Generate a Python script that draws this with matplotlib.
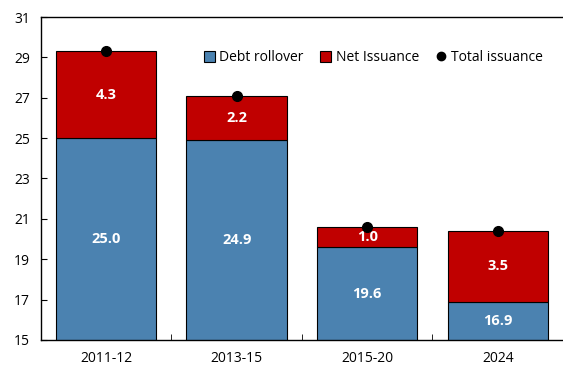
import numpy as np
import matplotlib.pyplot as plt
from matplotlib.lines import Line2D
from matplotlib.patches import Patch

plt.rcParams['font.family'] = ['Open Sans', 'DejaVu Sans']

periods = ['2011-12', '2013-15', '2015-20', '2024']
rollover = [25.0, 24.9, 19.6, 16.9]
net_issuance = [4.3, 2.2, 1.0, 3.5]
total = [29.3, 27.1, 20.6, 20.4]

blue = '#4B82B0'
red = '#C00000'

fig = plt.figure(figsize=(5.63, 3.68), dpi=100)
ax = fig.add_axes([0.0728, 0.0761, 0.9272, 0.8777])

x = np.arange(len(periods))
w = 0.77
ax.bar(x, rollover, w, color=blue, edgecolor='black', linewidth=0.8)
ax.bar(x, net_issuance, w, bottom=rollover, color=red, edgecolor='black', linewidth=0.8)
ax.plot(x, total, 'o', color='black', markersize=7, zorder=5)

# value labels centred in each segment
for i in range(len(x)):
    ax.text(x[i], 15 + (rollover[i] - 15) / 2, f'{rollover[i]:.1f}', ha='center', va='center',
            color='white', fontsize=10.5, fontweight='bold')
    ax.text(x[i], rollover[i] + net_issuance[i] / 2, f'{net_issuance[i]:.1f}', ha='center',
            va='center', color='white', fontsize=10.5, fontweight='bold')

ax.set_ylim(15, 31)
ax.set_yticks(np.arange(15, 32, 2))
ax.set_xlim(-0.5, 3.5)
ax.set_xticks(x)
ax.set_xticklabels(periods)
ax.set_xticks([0.5, 1.5, 2.5], minor=True)
ax.tick_params(axis='x', which='major', length=0, pad=8, labelsize=10)
ax.tick_params(axis='x', which='minor', direction='in', length=4)
ax.tick_params(axis='y', direction='in', length=4, labelsize=10, pad=8)
ax.spines['right'].set_visible(False)
for s in ['left', 'bottom', 'top']:
    ax.spines[s].set_linewidth(1.0)

handles = [Patch(facecolor=blue, edgecolor='black', linewidth=0.8),
           Patch(facecolor=red, edgecolor='black', linewidth=0.8),
           Line2D([], [], marker='o', color='black', linestyle='none', markersize=6)]
ax.legend(handles, ['Debt rollover', 'Net Issuance', 'Total issuance'], ncol=3,
          loc='upper right', bbox_to_anchor=(0.985, 0.935), frameon=False, fontsize=10,
          handlelength=0.8, handleheight=0.8, handletextpad=0.3, columnspacing=1.2)

fig.savefig('out.png', dpi=100)
